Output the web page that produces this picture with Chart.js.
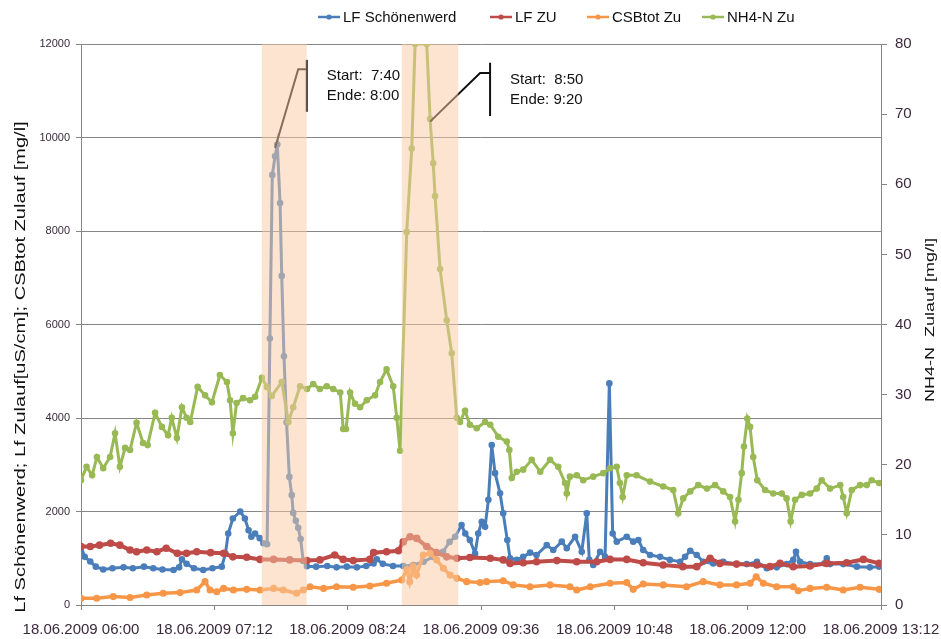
<!DOCTYPE html>
<html>
<head>
<meta charset="utf-8">
<script src="https://cdn.jsdelivr.net/npm/chart.js@4.4.1/dist/chart.umd.min.js"></script>
<style>
html, body { margin: 0; padding: 0; background: #fff; }
#wrap { width: 941px; height: 639px; }
</style>
</head>
<body>
<div id="wrap"><canvas id="myChart" width="941" height="639"></canvas></div>
<script>
// minutes after 18.06.2009 06:00
const xTickLabels = ['18.06.2009 06:00', '18.06.2009 07:12', '18.06.2009 08:24', '18.06.2009 09:36',
    '18.06.2009 10:48', '18.06.2009 12:00', '18.06.2009 13:12'];

const seriesNames = ['LF Schönenwerd', 'LF ZU', 'CSBtot Zu', 'NH4-N Zu'];

const lfSchTimes = [0, 2, 5, 8, 12, 17, 23, 28, 34, 39, 44, 50, 53, 54.5, 57, 61, 66, 71, 76, 78, 79.5, 82, 86, 88.5,
    90.5, 92, 94, 96.5, 98.5, 100.5, 102, 103.3, 104.8, 106, 107.5, 108.4, 109.6, 111, 112.5, 113.8, 114.6, 116,
    117.3, 118.6, 120, 122, 127, 133, 138, 143.5, 149, 154, 158, 159.7, 163, 168.5, 174, 179.5, 185, 190, 195.5,
    199, 202, 205.5, 207.5, 210, 212.8, 214.5, 216.4, 218.2, 220, 221.8, 223.6, 226.3, 228, 230.2, 231.7, 235.3,
    238.8, 242.5, 246, 251.5, 255, 259.6, 262.3, 266.8, 270.4, 273.1, 274.5, 276.6, 280.3, 283, 285.3, 287.1,
    289.3, 294.7, 298.2, 301, 303.6, 307.3, 312.7, 318, 323.5, 326.2, 329, 332.5, 336, 341.4, 346.8, 354, 359.5,
    365, 370.3, 375.7, 381, 384.6, 386.1, 388.3, 393.7, 401.5, 402.7, 404.5, 411.6, 419, 426, 431];
const lfSchValues = [1250, 1030, 930, 820, 760, 785, 805, 785, 820, 785, 760, 750, 805, 980, 880, 785, 750, 785, 820,
    1100, 1530, 1850, 2000, 1850, 1600, 1460, 1530, 1430, 1320, 1300, 5700, 9200, 9600, 9850, 8600, 7040, 5320,
    3910, 2740, 2350, 1970, 1800, 1650, 1410, 940, 830, 820, 835, 805, 820, 805, 835, 890, 980, 880, 835, 835, 855,
    925, 1030, 1140, 1350, 1460, 1710, 1530, 1390, 1100, 1530, 1780, 1675, 2250, 3420, 2820, 2390, 1960, 1390,
    1000, 965, 1030, 1120, 1070, 1280, 1175, 1355, 1215, 1460, 1140, 1960, 965, 855, 1140, 1030, 4740, 1530, 1355,
    1460, 1355, 1390, 1175, 1070, 1030, 965, 925, 1030, 1160, 1070, 925, 890, 925, 875, 875, 925, 785, 805, 875,
    965, 1140, 925, 875, 890, 1000, 875, 875, 820, 805, 820];

const lfZuTimes = [0, 5, 10, 16, 21, 26.5, 30, 35.5, 41, 46, 52, 57, 62.5, 70, 77, 82, 89.5, 96.7, 104, 112.7, 122,
    129, 137, 141.6, 147, 156, 158, 165, 171.4, 174, 177.7, 181.3, 186.7, 192, 197.5, 203, 210, 221, 228, 231.7,
    238.8, 246, 257, 267.7, 278.5, 285.7, 294.7, 303.6, 314.4, 325, 332.5, 339.7, 345, 354, 365, 372, 377.5,
    384.6, 393.7, 402.7, 413.5, 422.5, 431];
const lfZuValues = [1250, 1250, 1280, 1320, 1280, 1175, 1140, 1175, 1140, 1215, 1105, 1105, 1140, 1120, 1105, 1030,
    1020, 975, 975, 965, 950, 965, 1070, 975, 950, 975, 1120, 1140, 1160, 1350, 1460, 1425, 1250, 1120, 1030, 1000,
    1015, 1000, 965, 890, 905, 925, 950, 925, 925, 975, 975, 905, 855, 820, 820, 1000, 890, 875, 855, 820, 890, 820,
    835, 890, 905, 975, 890];

const csbTimes = [0, 8.5, 17.4, 26.5, 35.5, 44.4, 53.5, 62.5, 67, 69.7, 73.3, 77, 82.3, 89.5, 96.7, 104, 109.2,
    116.4, 120, 123.7, 131, 138, 147, 156, 165, 173.2, 176, 177.5, 179.4, 181.2, 184.8, 188.5, 192.1, 195.7, 199.3,
    203, 208.3, 215.5, 219, 228, 233.4, 242.5, 253.3, 264, 267.7, 275, 285.7, 294.7, 298.2, 303.6, 314.4, 327,
    336, 345, 354, 361.3, 364.6, 368.5, 375.7, 384.6, 387.3, 393.7, 402.7, 411.6, 420.7, 431];
const csbValues = [145, 145, 180, 160, 215, 250, 265, 320, 500, 320, 285, 355, 320, 335, 320, 355, 320, 250, 320,
    390, 355, 390, 380, 405, 465, 535, 760, 500, 820, 640, 1070, 1105, 965, 785, 640, 570, 500, 480, 500, 520, 430,
    390, 430, 390, 320, 390, 465, 480, 335, 450, 430, 390, 500, 430, 430, 465, 605, 465, 390, 390, 305, 355, 380,
    320, 380, 335];

const nh4Times = [0, 3, 6, 8.6, 12, 15.7, 18.4, 21, 23.8, 26.5, 30, 33.5, 36, 40, 43.7, 47, 49, 51.8, 54.5, 57,
    59, 63, 67, 70.7, 75, 78.8, 80.5, 82, 84, 87.5, 91.3, 94, 97.7, 100.4, 103, 108.4, 112, 114.6, 118.3, 122,
    125.4, 129, 132.7, 136.2, 140, 141.6, 143.1, 145.3, 148, 150.7, 154.3, 158.8, 161.5, 165, 168.6, 170.5, 172.3,
    175.9, 178.6, 180.4, 186.7, 188.5, 190.2, 191.2, 193.9, 197.5, 200.2, 202.9, 204.7, 207.4, 210, 213.7, 218.2,
    221, 225.3, 229.9, 231.3, 232.6, 235.3, 238.8, 243.4, 248, 253.3, 257.7, 261.4, 262.3, 264, 267.7, 271.2,
    276.6, 282, 285.7, 289.3, 291, 292.5, 294.7, 300, 307.3, 314.4, 319.8, 322.5, 325.2, 329, 333.3, 338, 342.4,
    346.8, 350.5, 353.2, 355, 356.8, 358, 359.8, 361.3, 363, 365.2, 369.4, 373.8, 378.4, 381, 383.2, 385.6, 389.2,
    393.7, 397.3, 400, 404.5, 410, 411.6, 413.5, 416.2, 420.7, 424.3, 427, 431];
const nh4Values = [17.8, 19.7, 18.5, 21.1, 19.5, 21.1, 24.5, 19.7, 22.4, 22.1, 26.0, 23.1, 22.8, 27.4, 25.4, 24.2,
    26.7, 23.8, 28.2, 26.7, 26.1, 31.1, 29.9, 28.9, 32.8, 31.8, 29.2, 24.5, 28.8, 29.5, 29.2, 29.7, 32.4, 31.1,
    29.8, 31.8, 26.1, 28.2, 31.2, 30.8, 31.5, 30.8, 31.2, 30.8, 30.3, 25.1, 25.1, 30.3, 28.7, 28.2, 29.2, 29.9,
    31.8, 33.6, 31.2, 26.7, 22.0, 53.2, 65.1, 80, 80, 69.3, 63.0, 58.3, 47.9, 40.6, 35.9, 26.7, 26.1, 27.7, 25.7,
    25.2, 26.1, 25.7, 24.0, 23.3, 22.1, 18.1, 19.0, 19.3, 20.7, 19.0, 20.7, 19.7, 17.4, 15.9, 18.3, 18.5, 17.8,
    18.3, 18.8, 19.5, 19.7, 17.4, 15.4, 18.5, 18.5, 17.6, 16.9, 16.4, 13.1, 15.2, 16.2, 17.1, 16.6, 17.1, 16.2,
    15.4, 11.9, 15.0, 18.8, 22.6, 26.6, 25.4, 21.1, 17.8, 16.4, 15.9, 15.9, 15.2, 11.9, 15.0, 15.7, 15.9, 16.6,
    17.8, 16.6, 17.1, 15.4, 13.1, 16.4, 17.1, 17.1, 17.8, 17.4];

// shaded sampling windows (minutes)
const shadeFrom = [97.6, 173.2];
const shadeTo = [121.9, 203.7];
const noteStart = ['Start:  7:40', 'Start:  8:50'];
const noteEnd = ['Ende: 8:00', 'Ende: 9:20'];

const colors = ['#4a7ebb', '#be4b48', '#f79646', '#98b954'];

function pts(times, values) {
    return times.map((t, i) => ({ x: t, y: values[i] }));
}

// callout geometry in data units (x minutes, y left axis)
const callouts = [
    { tip: [104.8, 9775], elbow: [117.3, 11460], bar: 121.9, barTop: 11660, barBottom: 10550, text: [132.7, 11230, 10800] },
    { tip: [188.5, 10340], elbow: [215.5, 11380], bar: 220.9, barTop: 11600, barBottom: 10460, text: [231.7, 11145, 10716] }
];

const FONT = "'Liberation Sans', Arial, sans-serif";
Chart.defaults.font.family = FONT;
Chart.defaults.color = '#333';

const extras = {
    id: 'extras',
    afterDatasetsDraw(chart) {
        const ctx = chart.ctx;
        const a = chart.chartArea;
        const x = chart.scales.x, y = chart.scales.y;
        ctx.save();
        ctx.strokeStyle = '#111';
        ctx.lineWidth = 2;
        callouts.forEach(function (c) {
            const bx = x.getPixelForValue(c.bar);
            const ey = y.getPixelForValue(c.elbow[1]);
            ctx.beginPath();
            ctx.moveTo(x.getPixelForValue(c.tip[0]), y.getPixelForValue(c.tip[1]));
            ctx.lineTo(x.getPixelForValue(c.elbow[0]), ey);
            ctx.lineTo(bx, ey);
            ctx.stroke();
            ctx.beginPath();
            ctx.moveTo(bx, y.getPixelForValue(c.barTop));
            ctx.lineTo(bx, y.getPixelForValue(c.barBottom));
            ctx.stroke();
        });
        ctx.fillStyle = 'rgba(249,201,161,0.5)';
        for (let i = 0; i < shadeFrom.length; i++) {
            const x0 = x.getPixelForValue(shadeFrom[i]);
            const x1 = x.getPixelForValue(shadeTo[i]);
            ctx.fillRect(x0, a.top, x1 - x0, a.bottom - a.top);
        }
        ctx.fillStyle = '#111';
        ctx.font = '15px ' + FONT;
        ctx.textBaseline = 'alphabetic';
        callouts.forEach(function (c, i) {
            const tx = x.getPixelForValue(c.text[0]);
            ctx.fillText(noteStart[i], tx, y.getPixelForValue(c.text[1]));
            ctx.fillText(noteEnd[i], tx, y.getPixelForValue(c.text[2]));
        });
        ctx.restore();
    },
    afterDraw(chart) {
        const ctx = chart.ctx;
        ctx.save();
        // legend
        const legendX = [318, 490, 587, 702];
        ctx.font = '15px ' + FONT;
        ctx.textBaseline = 'middle';
        seriesNames.forEach(function (name, i) {
            const lx = legendX[i], ly = 17;
            ctx.strokeStyle = colors[i];
            ctx.lineWidth = 2.5;
            ctx.beginPath();
            ctx.moveTo(lx, ly);
            ctx.lineTo(lx + 22, ly);
            ctx.stroke();
            ctx.fillStyle = colors[i];
            ctx.beginPath();
            ctx.arc(lx + 11, ly, 2.6, 0, Math.PI * 2);
            ctx.fill();
            ctx.fillStyle = '#111';
            ctx.fillText(name, lx + 25, ly + 1);
        });
        // axis titles
        ctx.fillStyle = '#111';
        ctx.textAlign = 'center';
        ctx.textBaseline = 'middle';
        ctx.save();
        ctx.translate(21, 367);
        ctx.rotate(-Math.PI / 2);
        ctx.scale(1, 0.7);
        ctx.font = '20px ' + FONT;
        ctx.fillText('Lf Schönenwerd; Lf Zulauf[uS/cm]; CSBtot Zulauf [mg/l]', 0, 0);
        ctx.restore();
        ctx.save();
        ctx.translate(930, 320);
        ctx.rotate(-Math.PI / 2);
        ctx.scale(1, 0.75);
        ctx.font = '18px ' + FONT;
        ctx.fillText('NH4-N  Zulauf [mg/l]', 0, 0);
        ctx.restore();
        ctx.restore();
    }
};

const ctx = document.getElementById('myChart').getContext('2d');
new Chart(ctx, {
    type: 'line',
    data: {
        datasets: [
            { label: seriesNames[0], data: pts(lfSchTimes, lfSchValues), borderColor: colors[0], backgroundColor: colors[0], borderWidth: 3, yAxisID: 'y', order: 4 },
            { label: seriesNames[1], data: pts(lfZuTimes, lfZuValues), borderColor: colors[1], backgroundColor: colors[1], borderWidth: 4, yAxisID: 'y', order: 3 },
            { label: seriesNames[2], data: pts(csbTimes, csbValues), borderColor: colors[2], backgroundColor: colors[2], borderWidth: 3.5, yAxisID: 'y', order: 2 },
            { label: seriesNames[3], data: pts(nh4Times, nh4Values), borderColor: colors[3], backgroundColor: colors[3], borderWidth: 3, yAxisID: 'y1', order: 1 }
        ]
    },
    options: {
        responsive: false,
        animation: false,
        devicePixelRatio: 1,
        layout: { padding: { top: 44, left: 0, right: 0, bottom: 0 } },
        elements: {
            line: { tension: 0 },
            point: { radius: 1.8, borderWidth: 0, hoverRadius: 1.8 }
        },
        plugins: {
            legend: { display: false },
            tooltip: { enabled: false }
        },
        scales: {
            x: {
                type: 'linear',
                min: 0,
                max: 432,
                afterFit: function (s) { s.height = 34; s.paddingLeft = 0; s.paddingRight = 0; },
                grid: { drawOnChartArea: false, color: '#868686', tickLength: 5 },
                border: { color: '#868686' },
                ticks: {
                    stepSize: 72,
                    padding: 11,
                    maxRotation: 0,
                    autoSkip: false,
                    font: { size: 15 },
                    color: '#3a2a3a',
                    callback: function (v) { return xTickLabels[Math.round(v / 72)]; }
                }
            },
            y: {
                position: 'left',
                min: 0,
                max: 12000,
                afterFit: function (s) { s.width = 81; },
                grid: { color: '#868686', tickLength: 5 },
                border: { color: '#868686' },
                ticks: { stepSize: 2000, padding: 6, font: { size: 11 }, color: '#3a2a3a', callback: function (v) { return String(v); } }
            },
            y1: {
                position: 'right',
                min: 0,
                max: 80,
                afterFit: function (s) { s.width = 60; },
                grid: { drawOnChartArea: false, color: '#868686', tickLength: 6 },
                border: { color: '#868686' },
                ticks: { stepSize: 10, padding: 8, font: { size: 15 }, color: '#3a2a3a' }
            }
        }
    },
    plugins: [extras]
});
</script>
</body>
</html>
